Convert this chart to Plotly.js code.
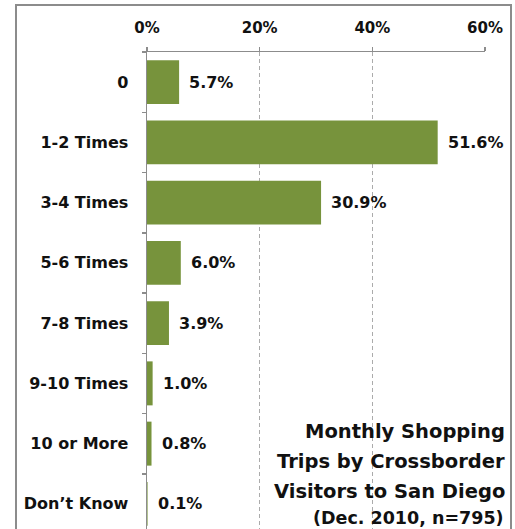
<!DOCTYPE html>
<html>
<head>
<meta charset="utf-8">
<script src="https://cdn.plot.ly/plotly-3.0.1.min.js"></script>
<style>
  html, body { margin: 0; padding: 0; overflow: hidden; background: #fff; }
  #chart { width: 515px; height: 540px; }
</style>
</head>
<body>
<div id="chart"></div>
<script>
// Monthly shopping trips by crossborder visitors to San Diego (Dec. 2010, n=795)
const categories = ['0', '1-2 Times', '3-4 Times', '5-6 Times', '7-8 Times', '9-10 Times', '10 or More', 'Don\u2019t Know'];
const shares = [5.7, 51.6, 30.9, 6.0, 3.9, 1.0, 0.8, 0.1];
const tickValues = [0, 20, 40, 60];
const tickLabels = ['0%', '20%', '40%', '60%'];
const titleLines = ['Monthly Shopping', 'Trips by Crossborder', 'Visitors to San Diego'];
const subtitle = '(Dec. 2010, n=795)';

const FONT = 'DejaVu Sans, Verdana, sans-serif';
const BAR = '#77933C';
const AXIS = '#8C8C8C';
const GRID = '#ABABAB';

const trace = {
  type: 'bar',
  orientation: 'h',
  x: shares,
  y: categories,
  marker: { color: BAR, line: { width: 0 } },
  width: 0.73,
  hoverinfo: 'skip'
};

// value labels sit just past the end of each bar
const valueNotes = shares.map((v, i) => ({
  x: v, y: categories[i], xref: 'x', yref: 'y',
  text: '<b>' + v.toFixed(1) + '%</b>',
  showarrow: false, xanchor: 'left', yanchor: 'middle', xshift: 8,
  font: { family: FONT, size: 16, color: '#111' }
}));

const titleY = [0.212, 0.150, 0.089];
const titleNotes = titleLines.map((t, i) => ({
  x: 1.066, y: titleY[i], xref: 'paper', yref: 'paper',
  text: '<b>' + t + '</b>', showarrow: false,
  xanchor: 'right', yanchor: 'middle',
  font: { family: FONT, size: 19.5, color: '#111' }
}));
titleNotes.push({
  x: 1.062, y: 0.034, xref: 'paper', yref: 'paper',
  text: '<b>' + subtitle + '</b>', showarrow: false,
  xanchor: 'right', yanchor: 'middle',
  font: { family: FONT, size: 17.5, color: '#111' }
});

const layout = {
  width: 515, height: 540,
  margin: { l: 147, r: 30, t: 52, b: 6 },
  paper_bgcolor: '#fff', plot_bgcolor: '#fff',
  showlegend: false,
  font: { family: FONT, color: '#111' },
  xaxis: {
    side: 'top',
    range: [0, 60],
    tickvals: tickValues,
    ticktext: tickLabels,
    tickfont: { family: FONT, size: 15, color: '#111', weight: 'bold' },
    showline: true, linecolor: AXIS, linewidth: 1.5,
    ticks: 'outside', ticklen: 4, tickcolor: AXIS, tickwidth: 1.5,
    ticklabelstandoff: 8,
    showgrid: true, gridcolor: GRID, griddash: '4px,3px', gridwidth: 1.5,
    zeroline: false, fixedrange: true
  },
  yaxis: {
    type: 'category',
    range: [categories.length - 0.5, -0.5],
    showline: true, linecolor: AXIS, linewidth: 1.5,
    ticks: 'outside', ticklen: 4, tickcolor: AXIS, tickwidth: 1.5,
    tickson: 'boundaries',
    ticklabelstandoff: 14,
    tickfont: { family: FONT, size: 16, color: '#111', weight: 'bold' },
    showgrid: false, zeroline: false, fixedrange: true
  },
  annotations: valueNotes.concat(titleNotes),
  shapes: [{
    type: 'rect', xref: 'paper', yref: 'paper',
    x0: (16 - 147) / 338, x1: (511 - 147) / 338,
    y0: -0.2, y1: (534 - 5) / 482,
    line: { color: AXIS, width: 2 }, fillcolor: 'rgba(0,0,0,0)', layer: 'above'
  }]
};

Plotly.newPlot('chart', [trace], layout, { displayModeBar: false, staticPlot: true });
</script>
</body>
</html>
